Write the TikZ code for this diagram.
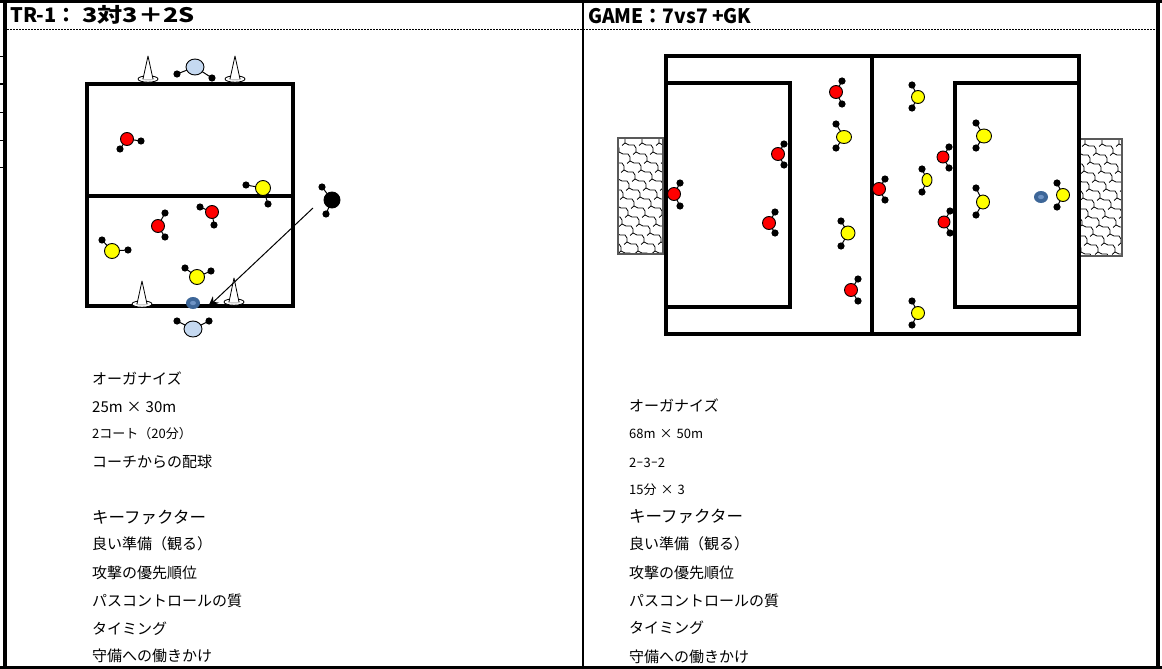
\documentclass[tikz,border=0pt]{standalone}
\usepackage{fontspec}
\usepackage{graphicx}
\setmainfont{Noto Sans CJK JP}
\usetikzlibrary{arrows.meta}
\definecolor{lb}{HTML}{C5D9F1}
\definecolor{ballc}{HTML}{3D6698}
\definecolor{ballin}{HTML}{6E93C4}
\definecolor{pred}{HTML}{FF0000}
\definecolor{pyel}{HTML}{FFFF00}
\newcommand\plyr[9]{%
  \draw[line width=1pt] (#6,#7) -- (#1,#2) -- (#8,#9);
  \fill (#6,#7) circle (3.6); \fill (#8,#9) circle (3.6);
  \draw[fill=#3, line width=0.9pt] (#1,#2) ellipse (#4 and #5);}
\newcommand\conemark[3]{%
  \draw[fill=white, line width=0.8pt] (#1,#3) ellipse (10 and 3.2);
  \fill[gray!45] (#1,#3) ellipse (6.5 and 1.4);
  \draw[fill=white, line width=0.8pt, line join=round] (#1-5,#3) -- (#1,#2) -- (#1+5,#3);}
\newcommand\ballmark[2]{%
  \fill[ballc] (#1,#2) ellipse (7 and 6);
  \fill[ballin] (#1,#2) ellipse (3 and 2.2);}
\newcommand\goalnet[4]{%
  \fill[white] (#1,#2) rectangle (#3,#4);
  \begin{scope}
    \clip (#1,#2) rectangle (#3,#4);
    \foreach \k in {-10,...,3}{%
      \pgfmathsetmacro\gx{#1+\k*17}%
      \draw[line width=0.8pt, line join=round] (\gx,#2-2)
        \foreach \r in {1,...,15}{ -- ++(5,0) -- ++(2,3) -- ++(0,4) -- ++(4,2) }
        ;
      \foreach \r in {0,...,15}{%
        \pgfmathsetmacro\hx{\gx+\r*11+7}%
        \pgfmathsetmacro\hy{#2-2+\r*9+7}%
        \draw[line width=0.8pt] (\hx,\hy) -- ++(-3,2.5);
      }
    }
  \end{scope}
  \draw[line width=1.2pt, black!65] (#1,#2) rectangle (#3,#4);}
\tikzset{
  txt/.style={anchor=west, inner sep=0pt, font=\fontsize{15}{15}\selectfont},
  txs/.style={anchor=west, inner sep=0pt, font=\fontsize{13}{13}\selectfont},
  txl/.style={anchor=west, inner sep=0pt, font=\fontsize{16.5}{16.5}\selectfont},
  hdr/.style={anchor=west, inner sep=0pt, font=\bfseries\fontsize{20}{20}\selectfont},
  pline/.style={line width=3.4pt},
}
\begin{document}
\begin{tikzpicture}[x=1pt,y=-1pt]
\useasboundingbox (0,0) rectangle (1162,669);
\fill[white] (0,0) rectangle (1162,669);
% frame
\draw[line width=4pt] (5,0) -- (5,669);
\draw[line width=3pt] (0,1.5) -- (1162,1.5);
\draw[line width=4pt] (1158,0) -- (1158,669);
\draw[line width=3pt] (0,667.5) -- (1162,667.5);
\draw[line width=2pt] (582.5,0) -- (582.5,669);
\draw[line width=1.6pt, dash pattern=on 1.6pt off 1.4pt] (7,29.5) -- (1156,29.5);
\foreach \ty in {57,84,112,140,167} \draw[line width=1pt] (0,\ty) -- (3,\ty);
% headers
\node[hdr] (h1) at (10,15) {TR-1：\hspace{6pt}\scalebox{1.26}[1]{3対3＋2S}};
\node[hdr] (h2) at (588,16) {\scalebox{0.96}[1]{GAME：7vs7 +GK}};
% ---------- left pitch
\draw[pline] (87,84) rectangle (293,306);
\draw[pline] (87,196) -- (293,196);
\conemark{148}{56}{79}
\conemark{235}{56}{79}
\conemark{142}{281}{304}
\conemark{234}{278}{302}
\plyr{195}{67}{lb}{9}{8}{177}{74}{212}{78}
\plyr{127}{139}{pred}{6.5}{6.5}{120}{149}{141}{141}
\plyr{263}{188}{pyel}{7.5}{7.5}{246}{185}{268}{204}
\plyr{332}{200}{black}{8}{8}{322}{187}{326}{214}
\plyr{212}{212}{pred}{6.5}{6.5}{200}{207}{214}{225}
\plyr{158}{226}{pred}{6.5}{6.5}{165}{213}{165}{237}
\plyr{112}{251}{pyel}{7.5}{7.5}{102}{240}{128}{250}
\plyr{197}{277}{pyel}{7.5}{7.5}{185}{268}{211}{271}
\ballmark{193}{303}
\plyr{193}{329}{lb}{9}{8}{177}{321}{209}{321}
\coordinate (as) at (313,208);
\coordinate (ae) at (208,307);
\draw[line width=1pt, -{Stealth[length=11pt,width=9pt]}] (as) -- (ae);
% ---------- right pitch
\goalnet{618}{138}{663}{254}
\goalnet{1078}{139}{1122}{256}
\draw[pline] (666,56) rectangle (1079,334);
\draw[pline] (872,56) -- (872,334);
\draw[pline] (666,83) rectangle (790,307);
\draw[pline] (955,83) rectangle (1079,307);
\plyr{836}{92}{pred}{6.5}{6.5}{842}{81}{842}{104}
\plyr{844}{137}{pyel}{7.5}{6.5}{836}{124}{836}{148}
\plyr{778}{154}{pred}{6.5}{6.5}{784}{144}{784}{165}
\plyr{674}{194}{pred}{6.5}{6.5}{680}{183}{680}{206}
\plyr{769}{223}{pred}{6.5}{6.5}{775}{212}{775}{233}
\plyr{848}{233}{pyel}{7}{7}{841}{221}{841}{246}
\plyr{851}{290}{pred}{6.5}{6.5}{858}{279}{858}{301}
\plyr{879}{189}{pred}{6.5}{6.5}{885}{179}{885}{200}
\plyr{918}{97}{pyel}{6.5}{6.5}{912}{85}{912}{108}
\plyr{984}{136}{pyel}{7.5}{7}{976}{123}{976}{148}
\plyr{943}{157}{pred}{6}{6}{949}{147}{949}{168}
\plyr{927}{180}{pyel}{5}{6.5}{922}{169}{922}{192}
\plyr{944}{222}{pred}{6}{6}{950}{211}{950}{233}
\plyr{983}{202}{pyel}{6.5}{7}{976}{188}{976}{215}
\ballmark{1041}{197}
\plyr{1063}{195}{pyel}{6.5}{6.5}{1057}{183}{1057}{207}
\plyr{918}{313}{pyel}{6.5}{6.5}{912}{301}{912}{325}
% ---------- left text
\node[txt] (l1) at (92,378) {オーガナイズ};
\node[txt] (l2) at (92,407) {25m\hspace{4pt}×\hspace{4pt}30m};
\node[txs] (l3) at (92,434) {2コート（20分）};
\node[txt] (l4) at (92,462) {コーチからの配球};
\node[txl] (l5) at (92,517) {キーファクター};
\node[txt] (l6) at (92,544) {良い準備（観る）};
\node[txt] (l7) at (92,573) {攻撃の優先順位};
\node[txt] (l8) at (92,601) {パスコントロールの質};
\node[txt] (l9) at (92,629) {タイミング};
\node[txt] (l10) at (92,656) {守備への働きかけ};
% ---------- right text
\node[txt] (r1) at (629,405) {オーガナイズ};
\node[txs] (r2) at (629,434) {68m\hspace{4pt}×\hspace{4pt}50m};
\node[txs] (r3) at (629,463) {2\scalebox{0.55}[1]{－}3\scalebox{0.55}[1]{－}2};
\node[txs] (r4) at (629,490) {15分\hspace{4pt}×\hspace{4pt}3};
\node[txl] (r5) at (629,516) {キーファクター};
\node[txt] (r6) at (629,544) {良い準備（観る）};
\node[txt] (r7) at (629,573) {攻撃の優先順位};
\node[txt] (r8) at (629,601) {パスコントロールの質};
\node[txt] (r9) at (629,628) {タイミング};
\node[txt] (r10) at (629,657) {守備への働きかけ};
\end{tikzpicture}
\end{document}
